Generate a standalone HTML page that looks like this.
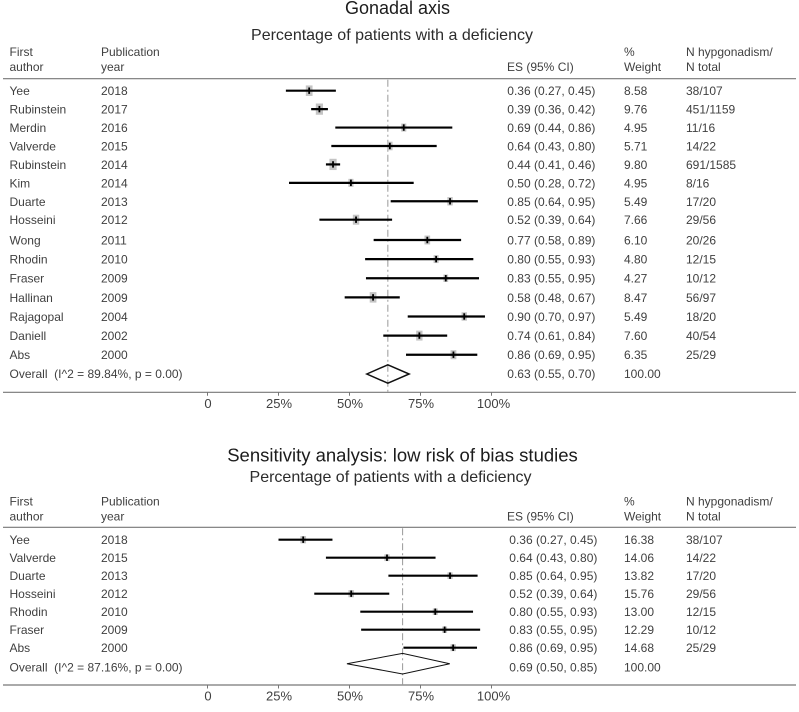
<!DOCTYPE html>
<html>
<head>
<meta charset="utf-8">
<title>Gonadal axis forest plots</title>
<style>
html,body{margin:0;padding:0;background:#fff;}
svg{display:block;}
text{font-family:"Liberation Sans",Arial,sans-serif;fill:#404040;font-size:12px;}
.t1{font-size:18px;fill:#1c1c1c;text-anchor:middle;}
.t1b{font-size:18.5px;fill:#1c1c1c;text-anchor:middle;}
.t2{font-size:16px;fill:#2c2c2c;text-anchor:middle;}
.tick{font-size:13px;fill:#404040;text-anchor:middle;}
</style>
</head>
<body>
<svg id="chart" width="799" height="712" viewBox="0 0 799 712" xmlns="http://www.w3.org/2000/svg">
<rect width="799" height="712" fill="#fff"/>

<text class="t1" x="397.5" y="14">Gonadal axis</text>
<text class="t2" x="392" y="40">Percentage of patients with a deficiency</text>
<text x="9.5" y="56">First</text>
<text x="9.5" y="71">author</text>
<text x="101" y="56">Publication</text>
<text x="101" y="71">year</text>
<text x="507" y="71">ES (95% CI)</text>
<text x="624" y="56">%</text>
<text x="624" y="71">Weight</text>
<text x="686" y="56">N hypgonadism/</text>
<text x="686" y="71">N total</text>

<text class="t1b" x="402.5" y="461.5">Sensitivity analysis: low risk of bias studies</text>
<text class="t2" x="390.5" y="482">Percentage of patients with a deficiency</text>
<text x="9.5" y="505.5">First</text>
<text x="9.5" y="520.5">author</text>
<text x="101" y="505.5">Publication</text>
<text x="101" y="520.5">year</text>
<text x="507" y="520.5">ES (95% CI)</text>
<text x="624" y="505.5">%</text>
<text x="624" y="520.5">Weight</text>
<text x="686" y="505.5">N hypgonadism/</text>
<text x="686" y="520.5">N total</text>

<g id="top-panel"></g>
<g id="bottom-panel"></g>
</svg>
<script>
var tickValues = [0, 0.25, 0.5, 0.75, 1];
var tickLabels = ["0", "25%", "50%", "75%", "100%"];

var topAuthors = ["Yee","Rubinstein","Merdin","Valverde","Rubinstein","Kim","Duarte","Hosseini","Wong","Rhodin","Fraser","Hallinan","Rajagopal","Daniell","Abs"];
var topYears = ["2018","2017","2016","2015","2014","2014","2013","2012","2011","2010","2009","2009","2004","2002","2000"];
var topEsLabels = ["0.36 (0.27, 0.45)","0.39 (0.36, 0.42)","0.69 (0.44, 0.86)","0.64 (0.43, 0.80)","0.44 (0.41, 0.46)","0.50 (0.28, 0.72)","0.85 (0.64, 0.95)","0.52 (0.39, 0.64)","0.77 (0.58, 0.89)","0.80 (0.55, 0.93)","0.83 (0.55, 0.95)","0.58 (0.48, 0.67)","0.90 (0.70, 0.97)","0.74 (0.61, 0.84)","0.86 (0.69, 0.95)"];
var topWeights = [8.58,9.76,4.95,5.71,9.80,4.95,5.49,7.66,6.10,4.80,4.27,8.47,5.49,7.60,6.35];
var topCounts = ["38/107","451/1159","11/16","14/22","691/1585","8/16","17/20","29/56","20/26","12/15","10/12","56/97","18/20","40/54","25/29"];
var topLow = [0.276,0.365,0.450,0.436,0.417,0.287,0.645,0.394,0.585,0.555,0.558,0.483,0.705,0.619,0.699];
var topEst = [0.358,0.394,0.691,0.642,0.442,0.505,0.854,0.523,0.774,0.805,0.839,0.583,0.904,0.746,0.866];
var topHigh = [0.452,0.424,0.862,0.807,0.467,0.726,0.952,0.650,0.893,0.936,0.956,0.677,0.977,0.844,0.950];
var topOverall = [0.561,0.635,0.710];

var botAuthors = ["Yee","Valverde","Duarte","Hosseini","Rhodin","Fraser","Abs"];
var botYears = ["2018","2015","2013","2012","2010","2009","2000"];
var botEsLabels = ["0.36 (0.27, 0.45)","0.64 (0.43, 0.80)","0.85 (0.64, 0.95)","0.52 (0.39, 0.64)","0.80 (0.55, 0.93)","0.83 (0.55, 0.95)","0.86 (0.69, 0.95)"];
var botWeights = [16.38,14.06,13.82,15.76,13.00,12.29,14.68];
var botCounts = ["38/107","14/22","17/20","29/56","12/15","10/12","25/29"];
var botLow = [0.250,0.417,0.637,0.376,0.538,0.541,0.690];
var botEst = [0.337,0.632,0.854,0.506,0.802,0.835,0.865];
var botHigh = [0.440,0.803,0.951,0.640,0.935,0.960,0.949];
var botOverall = [0.491,0.687,0.853];

var NS = "http://www.w3.org/2000/svg";
function xScale(v) { return 207.5 + v * 284; }
function make(tag, parent, attrs, txt) {
  var e = document.createElementNS(NS, tag);
  for (var k in attrs) e.setAttribute(k, attrs[k]);
  if (txt !== undefined) e.textContent = txt;
  parent.appendChild(e);
  return e;
}

function drawPanel(root, cfg) {
  var el;
  var n = cfg.authors.length;

  el = make("line", root, {x1: 3, x2: 796, y1: cfg.headY, y2: cfg.headY, stroke: "#777", "stroke-width": 1.2});
  
  

  el = make("line", root, {x1: 3, x2: 796, y1: cfg.axisY, y2: cfg.axisY, stroke: "#777", "stroke-width": 1.2});
  
  

  el = make("line", root, {x1: xScale(cfg.overall[1]), x2: xScale(cfg.overall[1]), y1: cfg.headY + 1, y2: cfg.axisY, stroke: "#999", "stroke-width": 1, "stroke-dasharray": "7 3 2 3"});
  
  

  for (var t = 0; t < tickValues.length; t++) {
    var tx = xScale(tickValues[t]);
    el = make("line", root, {x1: tx, x2: tx, y1: cfg.axisY, y2: cfg.axisY + 3.5, stroke: "#777", "stroke-width": 1});
    
    
    el = make("text", root, {"class": "tick", x: tx + (t === 4 ? 2 : 0.5), y: cfg.axisY + 15.7}, tickLabels[t]);
    
    
  }

  for (var i = 0; i < n; i++) {
    var y = cfg.rowY(i);
    var ty = y + 4.5;
    el = make("text", root, {x: 9.5, y: ty}, cfg.authors[i]);
    
    
    el = make("text", root, {x: 101, y: ty}, cfg.years[i]);
    
    
    el = make("text", root, {x: cfg.esX, y: ty}, cfg.es[i]);
    
    
    el = make("text", root, {x: 624, y: ty}, cfg.weights[i].toFixed(2));
    
    
    el = make("text", root, {x: 686, y: ty}, cfg.counts[i]);
    
    

    var w = cfg.sqW * Math.sqrt(cfg.weights[i]);
    var h = cfg.sqH * Math.sqrt(cfg.weights[i]);
    var cx = xScale(cfg.est[i]);
    el = make("rect", root, {x: cx - w / 2, y: y - h / 2, width: w, height: h, fill: "#c4c4c4"});
    
    
    el = make("line", root, {x1: xScale(cfg.low[i]), x2: xScale(cfg.high[i]), y1: y, y2: y, stroke: "#000", "stroke-width": 2.2});
    
    
    el = make("line", root, {x1: cx, x2: cx, y1: y - 3.2, y2: y + 3.2, stroke: "#000", "stroke-width": 1.8});
    
    
  }

  var d = cfg.diamondY;
  var pts = [xScale(cfg.overall[0]) + "," + d, xScale(cfg.overall[1]) + "," + (d - cfg.diamondH), xScale(cfg.overall[2]) + "," + d, xScale(cfg.overall[1]) + "," + (d + cfg.diamondH)].join(" ");
  el = make("polygon", root, {points: pts, fill: "none", stroke: "#111", "stroke-width": cfg.diamondStroke});
  
  

  el = make("text", root, {x: 9.5, y: cfg.overallTextY}, "Overall\u00A0\u00A0(I^2 = " + cfg.i2 + ", p = 0.00)");
  
  
  el = make("text", root, {x: cfg.esX, y: cfg.overallTextY}, cfg.overallEs);
  
  
  el = make("text", root, {x: 624, y: cfg.overallTextY}, "100.00");
  
  
}

drawPanel(document.getElementById("top-panel"), {
  authors: topAuthors, years: topYears, es: topEsLabels, weights: topWeights, counts: topCounts,
  low: topLow, est: topEst, high: topHigh, overall: topOverall,
  rowY: function (i) { return i < 8 ? 90.7 + 18.43 * i : 240 + 19.12 * (i - 8); },
  headY: 78.7, axisY: 392.3, esX: 507.3, sqW: 2.3, sqH: 3.6,
  diamondY: 374, diamondH: 9.2, diamondStroke: 1.5, overallTextY: 378,
  i2: "89.84%", overallEs: "0.63 (0.55, 0.70)"
});

drawPanel(document.getElementById("bottom-panel"), {
  authors: botAuthors, years: botYears, es: botEsLabels, weights: botWeights, counts: botCounts,
  low: botLow, est: botEst, high: botHigh, overall: botOverall,
  rowY: function (i) { return 539.7 + 18 * i; },
  headY: 527.3, axisY: 685, esX: 509.3, sqW: 1.4, sqH: 1.8,
  diamondY: 663.7, diamondH: 10.3, diamondStroke: 1, overallTextY: 671.5,
  i2: "87.16%", overallEs: "0.69 (0.50, 0.85)"
});
</script>
</body>
</html>
